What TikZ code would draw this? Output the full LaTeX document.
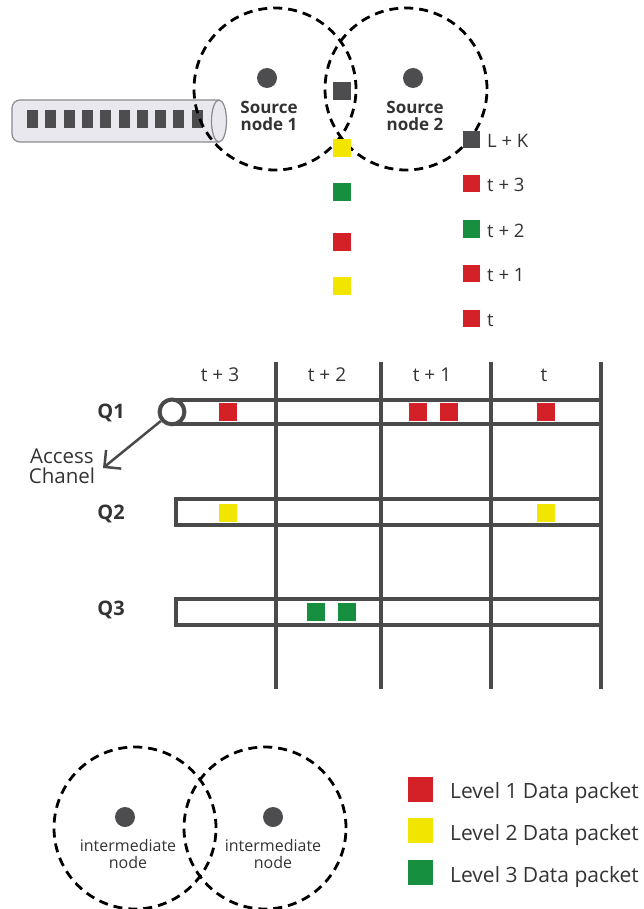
\documentclass[tikz,border=0pt]{standalone}
\usepackage{fontspec}
\setmainfont{Open Sans}
\newcommand{\semib}{\bfseries}
\usetikzlibrary{arrows.meta}
\definecolor{pred}{HTML}{D42027}
\definecolor{pyel}{HTML}{F2E600}
\definecolor{pgrn}{HTML}{16903E}
\definecolor{pdark}{HTML}{4D4D4F}
\definecolor{lineg}{HTML}{4A4A4A}
\definecolor{txtg}{HTML}{333333}
\definecolor{cylf}{HTML}{E8E8EE}
\definecolor{cyls}{HTML}{8A8A90}
\tikzset{
  dashc/.style={draw=black, circle, inner sep=0pt, dash pattern=on 9pt off 6pt, line width=2.8pt, minimum size=162pt},
  pkt/.style={rectangle, inner sep=0pt, minimum size=18pt},
  lgd/.style={rectangle, inner sep=0pt, minimum size=25pt},
  dotn/.style={circle, fill=pdark, inner sep=0pt, minimum size=20pt},
  gridl/.style={draw=lineg, line width=4pt},
  cylsq/.style={rectangle, fill=pdark, inner sep=0pt, minimum width=11pt, minimum height=18pt},
  nlbl/.style={text=txtg, align=center, inner sep=0pt},
}
\begin{document}
\begin{tikzpicture}[x=1pt,y=-1pt]
\useasboundingbox (0,0) rectangle (644,909);
% cylinder
\path[fill=cylf, draw=cyls, line width=1.2pt, rounded corners=8pt] (219,100) -- (12,100) -- (12,142) -- (219,142);
\path[fill=cylf, draw=cyls, line width=1.2pt] (219,121) ellipse (7.5 and 21);
\foreach \i in {0,...,9} \node[cylsq] (cs\i) at ({32.5+18.3*\i},119) {};
% source circles
\node[dashc] (sc1) at (275,89) {};
\node[dashc] (sc2) at (406,89) {};
\node[dotn] (sd1) at (267,78) {};
\node[dotn] (sd2) at (413,78) {};
\node[nlbl, font=\semib\fontsize{17}{17}\selectfont] (st1) at (269,116) {Source\\node 1};
\node[nlbl, font=\semib\fontsize{17}{17}\selectfont] (st2) at (415,116) {Source\\node 2};
% packet column
\node[pkt, fill=pdark] (c0) at (342,91) {};
\node[pkt, fill=pyel] (c1) at (342,148) {};
\node[pkt, fill=pgrn] (c2) at (342,192) {};
\node[pkt, fill=pred] (c3) at (342,242) {};
\node[pkt, fill=pyel] (c4) at (342,286) {};
% key column
\node[pkt, fill=pdark, minimum size=17pt] (k0) at (471,140) {};
\node[pkt, fill=pred, minimum size=17pt] (k1) at (471,184) {};
\node[pkt, fill=pgrn, minimum size=17pt] (k2) at (471,229) {};
\node[pkt, fill=pred, minimum size=17pt] (k3) at (471,273) {};
\node[pkt, fill=pred, minimum size=17pt] (k4) at (471,318) {};
\begin{scope}[every node/.style={text=txtg, anchor=base west, inner sep=0pt, font=\fontsize{18.5}{20}\selectfont}]
\node (kt0) at (487,148) {L + K};
\node (kt1) at (487,192) {t + 3};
\node (kt2) at (487,237) {t + 2};
\node (kt3) at (487,281) {t + 1};
\node (kt4) at (487,326) {t};
\end{scope}
% grid
\foreach \x in {276.2,380.7,490.8,600.5} \draw[gridl] (\x,362) -- (\x,689);
\draw[gridl] (172,399.5) -- (600.5,399.5);
\draw[gridl] (172,424.3) -- (600.5,424.3);
\node[circle, draw=lineg, line width=4pt, fill=white, inner sep=0pt, minimum size=24.8pt] (q1c) at (172,411.9) {};
\draw[gridl] (600.5,499.3) -- (176,499.3) -- (176,524.7) -- (600.5,524.7);
\draw[gridl] (600.5,599.3) -- (176,599.3) -- (176,624.7) -- (600.5,624.7);
\begin{scope}[every node/.style={text=txtg, anchor=base, inner sep=0pt, font=\fontsize{19}{20}\selectfont}]
\node (h3) at (220,381) {t + 3};
\node (h2) at (327,381) {t + 2};
\node (h1) at (432,381) {t + 1};
\node (h0) at (544,381) {t};
\end{scope}
\begin{scope}[every node/.style={text=txtg, anchor=base, inner sep=0pt, font=\semib\fontsize{20}{22}\selectfont}]
\node (q1) at (111,418) {Q1};
\node (q2) at (111,519) {Q2};
\node (q3) at (111,615) {Q3};
\end{scope}
% packets in queues
\node[pkt, fill=pred] (r1) at (228,411.9) {};
\node[pkt, fill=pred] (r2) at (418,411.9) {};
\node[pkt, fill=pred] (r3) at (448.5,411.9) {};
\node[pkt, fill=pred] (r4) at (546,411.9) {};
\node[pkt, fill=pyel] (y1) at (228,513) {};
\node[pkt, fill=pyel] (y2) at (546,513) {};
\node[pkt, fill=pgrn] (g1) at (316,612) {};
\node[pkt, fill=pgrn] (g2) at (346.5,612) {};
% access channel
\coordinate (acc) at (103,468);
\draw[draw=lineg, line width=2.5pt, -{Straight Barb[length=12pt,width=24pt,line width=2.5pt]}] (q1c) -- (acc);
\node[nlbl, font=\fontsize{20.5}{20}\selectfont, text=txtg] (acct) at (62,466) {Access\\Chanel};
% intermediate circles
\node[dashc] (ic1) at (135,828) {};
\node[dashc] (ic2) at (265,828) {};
\node[dotn] (id1) at (125,817) {};
\node[dotn] (id2) at (273,817) {};
\node[nlbl, font=\fontsize{16}{17}\selectfont] (it1) at (128,854) {intermediate\\node};
\node[nlbl, font=\fontsize{16}{17}\selectfont] (it2) at (273,854) {intermediate\\node};
% legend
\node[lgd, fill=pred] (l1) at (420,789) {};
\node[lgd, fill=pyel] (l2) at (420,830) {};
\node[lgd, fill=pgrn] (l3) at (420,872) {};
\begin{scope}[every node/.style={text=txtg, anchor=base west, inner sep=0pt, font=\fontsize{21}{22}\selectfont}]
\node (lt1) at (450,798) {Level 1 Data packet};
\node (lt2) at (450,840) {Level 2 Data packet};
\node (lt3) at (450,882) {Level 3 Data packet};
\end{scope}
\end{tikzpicture}
\end{document}
